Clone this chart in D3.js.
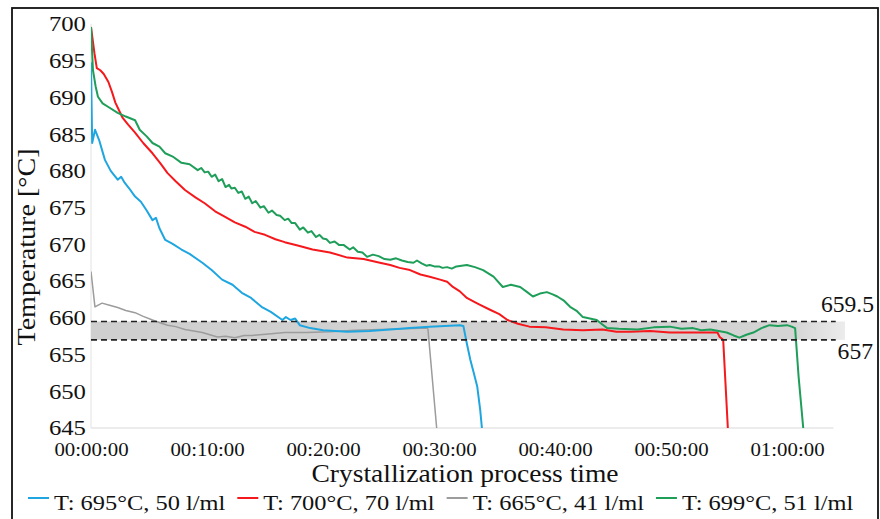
<!DOCTYPE html>
<html>
<head>
<meta charset="utf-8">
<script src="https://cdn.jsdelivr.net/npm/d3@7"></script>
<style>
  html, body { margin: 0; padding: 0; background: #fff; }
  svg text { font-family: "Liberation Serif", "Times New Roman", serif; fill: #111; }
</style>
</head>
<body>
<svg id="chart" width="880" height="519"></svg>
<script>
// ---------------- data (time in minutes, temperature in °C) ----------------
const seriesNames = ["T: 695°C, 50 l/ml", "T: 700°C, 70 l/ml", "T: 665°C, 41 l/ml", "T: 699°C, 51 l/ml"];
const seriesColors = ["#1fa6e0", "#f5181c", "#9c9c9c", "#1f9e5a"];

const blueTime = [0, 0.1, 0.35, 0.7, 1.2, 1.7, 2.3, 2.6, 2.9, 3.3, 3.8, 4.3, 4.8, 5.3, 5.6, 5.9, 6.4, 7.0, 7.8, 8.5, 9.6, 10.4, 11.3, 12.2, 13.0, 13.8, 14.7, 15.5, 16.5, 16.8, 17.2, 17.6, 18.0, 18.9, 20.0, 22.1, 24.0, 25.8, 27.5, 29.2, 30.5, 31.8, 32.1, 32.4, 32.7, 33.0, 33.3, 33.55, 33.7];
const blueTemp = [694.8, 683.8, 685.6, 684.2, 681.5, 680.0, 678.8, 679.2, 678.4, 677.6, 676.5, 675.8, 674.6, 673.3, 673.6, 672.2, 670.6, 670.1, 669.3, 668.7, 667.5, 666.5, 665.2, 664.5, 663.4, 662.7, 661.5, 660.8, 659.7, 660.1, 659.7, 659.9, 659.0, 658.6, 658.3, 658.1, 658.2, 658.4, 658.6, 658.8, 658.9, 659.0, 658.9, 656.5, 654.3, 652.5, 650.6, 647.5, 645];

const redTime = [0, 0.3, 0.5, 0.8, 1.1, 1.5, 1.8, 2.1, 2.7, 3.2, 3.8, 4.5, 5.3, 6.0, 6.6, 7.3, 8.1, 9.0, 9.8, 10.7, 11.6, 12.4, 13.3, 14.1, 15.0, 15.9, 16.7, 17.9, 19.1, 20.6, 22.1, 23.5, 24.9, 25.8, 26.6, 27.5, 28.4, 29.2, 30.1, 30.7, 31.2, 31.8, 32.4, 33.0, 33.5, 34.4, 35.2, 35.9, 36.8, 37.8, 39.2, 40.7, 42.4, 44.1, 45.3, 46.5, 48.2, 49.9, 51.6, 53.4, 54.0, 54.2, 54.5, 54.7, 54.9];
const redTemp = [699.6, 696.0, 694.0, 693.7, 693.2, 692.1, 690.8, 689.3, 687.3, 686.3, 685.2, 683.8, 682.4, 681.0, 679.7, 678.6, 677.4, 676.4, 675.6, 674.5, 673.7, 673.0, 672.4, 671.7, 671.3, 670.7, 670.3, 669.8, 669.3, 668.9, 668.2, 668.0, 667.5, 667.2, 666.8, 666.5, 665.9, 665.6, 665.2, 664.9, 664.2, 663.6, 662.7, 662.2, 661.8, 661.1, 660.5, 659.7, 659.2, 658.8, 658.7, 658.4, 658.3, 658.4, 658.1, 658.1, 658.2, 658.0, 658.0, 658.0, 658.0, 657.4, 657.0, 651.0, 645];

const grayTime = [0, 0.34, 0.95, 1.6, 2.3, 3.0, 3.8, 4.5, 5.3, 6.0, 6.6, 7.3, 8.1, 9.6, 10.9, 11.6, 12.4, 13.2, 13.9, 15.3, 16.7, 18.6, 20.6, 22.7, 24.9, 27.0, 29.0, 29.05, 29.8];
const grayTemp = [666.3, 661.5, 662.0, 661.7, 661.4, 661.0, 660.7, 660.2, 659.7, 659.3, 659.0, 658.8, 658.4, 658.0, 657.4, 657.5, 657.3, 657.6, 657.6, 657.8, 658.0, 658.0, 658.1, 658.3, 658.4, 658.5, 658.6, 658.4, 645];

const greenTime = [0, 0.17, 0.4, 0.6, 1.0, 1.5, 2.3, 3.0, 3.8, 4.2, 4.8, 5.3, 5.9, 6.4, 7.1, 7.8, 8.5,
  9.2, 9.5, 9.8, 10.1, 10.4, 10.7, 11.0, 11.3, 11.6, 11.9,
  12.1, 12.4, 12.7, 13.0, 13.3, 13.6, 13.9, 14.2, 14.6, 14.9,
  15.3, 15.6, 16.0, 16.3, 16.7, 17.0, 17.3, 17.6, 18.0, 18.3,
  18.7, 19.0, 19.4, 19.7, 20.0, 20.3, 20.6, 21.0, 21.4, 21.8,
  22.3, 22.6, 23.0, 23.4, 23.8, 24.3, 24.8, 25.3, 25.8, 26.3,
  26.8, 27.3, 27.8, 28.1, 28.5, 28.9, 29.2, 29.6, 30.0, 30.3,
  30.7, 31.1, 31.5,
  32.4, 33.1, 33.8, 34.7, 35.5, 36.2, 37.0, 37.6, 38.1, 38.7, 39.3, 39.8, 40.2, 40.8, 41.3, 41.9, 42.4, 43.0, 43.6, 44.0, 44.5, 45.5, 47.1, 48.5, 49.9, 50.9, 51.9, 52.6, 53.4, 54.1, 54.8, 55.4, 55.9, 56.5, 57.1, 57.8, 58.5, 59.2, 60.0, 60.4, 60.7, 61.0, 61.4];
const greenTemp = [699.6, 693.7, 691.5, 690.1, 689.2, 688.7, 687.9, 687.4, 686.9, 685.6, 684.7, 683.8, 683.3, 682.4, 681.9, 681.1, 680.9,
  680.1, 680.4, 679.8, 679.9, 679.2, 679.5, 678.6, 678.9, 677.8, 678.1,
  677.6, 677.7, 677.0, 677.2, 676.2, 676.5, 675.6, 675.9, 675.0, 675.2,
  674.3, 674.6, 674.0, 673.9, 673.3, 673.5, 672.9, 672.9, 672.0, 672.3,
  671.6, 671.8, 671.0, 671.3, 670.8, 670.7, 670.2, 670.4, 669.9, 669.9,
  669.3, 669.6, 669.0, 668.9, 668.3, 668.6, 668.4, 668.0, 667.9, 668.1,
  667.8, 667.6, 667.5, 667.8, 667.4, 667.1, 667.2, 667.0, 667.0, 666.8,
  666.9, 666.7, 667.0,
  667.2, 666.9, 666.5, 665.6, 664.2, 664.5, 664.2, 663.5, 662.9, 663.3, 663.5, 663.2, 662.9, 662.3, 661.5, 660.9, 660.1, 659.9, 659.7, 659.2, 658.6, 658.5, 658.4, 658.7, 658.8, 658.5, 658.6, 658.3, 658.4, 658.2, 658.0, 657.6, 657.3, 657.7, 658.0, 658.6, 659.0, 658.9, 659.0, 658.8, 658.6, 652.0, 645];

const xTickValues = [0, 10, 20, 30, 40, 50, 60];
const xTickLabels = ["00:00:00", "00:10:00", "00:20:00", "00:30:00", "00:40:00", "00:50:00", "01:00:00"];
const yTickValues = [645, 650, 655, 660, 665, 670, 675, 680, 685, 690, 695, 700];
const bandLimits = [657, 659.5];
const bandLabels = ["657", "659.5"];

// ---------------- drawing ----------------
const svg = d3.select("#chart");
const x = d3.scaleLinear().domain([0, 65]).range([91, 845]);
const y = d3.scaleLinear().domain([645, 700]).range([428, 24]);

// outer frame
svg.append("rect").attr("x", 12).attr("y", 8).attr("width", 866).attr("height", 530)
  .attr("fill", "none").attr("stroke", "#111").attr("stroke-width", 1.8);

const plot = svg.append("g");
plot.append("clipPath").attr("id", "clip").append("rect")
  .attr("x", x(0)).attr("y", y(700) - 2).attr("width", x(65) - x(0)).attr("height", y(645) - y(700) + 2);

// faint plot borders
plot.append("line").attr("x1", x(0)).attr("x2", x(0)).attr("y1", y(700)).attr("y2", y(645))
  .attr("stroke", "#e2e2e2").attr("stroke-width", 1);
plot.append("line").attr("x1", x(0)).attr("x2", x(64)).attr("y1", y(645)).attr("y2", y(645))
  .attr("stroke", "#e6e6e6").attr("stroke-width", 1.5);

// grey band
const grad = svg.append("defs").append("linearGradient").attr("id", "bandGrad")
  .attr("x1", "0").attr("x2", "1").attr("y1", "0").attr("y2", "0");
grad.append("stop").attr("offset", "0%").attr("stop-color", "#cfcfcf");
grad.append("stop").attr("offset", "93%").attr("stop-color", "#d4d4d4");
grad.append("stop").attr("offset", "100%").attr("stop-color", "#ececec");
plot.append("rect")
  .attr("x", x(0)).attr("y", y(bandLimits[1]))
  .attr("width", x(65) - x(0)).attr("height", y(bandLimits[0]) - y(bandLimits[1]))
  .attr("fill", "url(#bandGrad)");

// series lines
const series = [
  { t: blueTime, v: blueTemp, w: 2 },
  { t: redTime, v: redTemp, w: 2 },
  { t: grayTime, v: grayTemp, w: 1.5 },
  { t: greenTime, v: greenTemp, w: 2 }
];
const line = d3.line().x(d => x(d[0])).y(d => y(d[1]));
const drawOrder = [2, 0, 1, 3];
drawOrder.forEach(i => {
  const s = series[i];
  plot.append("path")
    .datum(s.t.map((t, k) => [t, s.v[k]]))
    .attr("clip-path", "url(#clip)")
    .attr("fill", "none")
    .attr("stroke", seriesColors[i])
    .attr("stroke-width", s.w)
    .attr("stroke-linejoin", "round")
    .attr("d", line);
});

// dashed limit lines
bandLimits.forEach(v => {
  plot.append("line")
    .attr("x1", x(0)).attr("x2", x(64.2))
    .attr("y1", y(v)).attr("y2", y(v))
    .attr("stroke", "#222").attr("stroke-width", 1.6)
    .attr("stroke-dasharray", "6,4");
});

// band labels
svg.append("text").attr("text-anchor", "end").attr("font-size", 22.5)
  .attr("transform", `translate(874,${y(bandLimits[1]) - 9}) scale(1.05,1)`).text(bandLabels[1]);
svg.append("text").attr("text-anchor", "end").attr("font-size", 22.5)
  .attr("transform", `translate(873,${y(bandLimits[0]) + 19}) scale(1.05,1)`).text(bandLabels[0]);

// y axis
const yAxis = svg.append("g").attr("transform", `translate(${x(0)},0)`)
  .call(d3.axisLeft(y).tickValues(yTickValues).tickSize(0).tickPadding(5).tickFormat(d3.format("d")));
yAxis.select(".domain").remove();
yAxis.selectAll("text").attr("font-size", 21.5).attr("fill", "#111")
  .attr("font-family", "Liberation Serif, serif")
  .attr("x", -4.4).attr("transform", "scale(1.15,1)");

// x axis
const xAxis = svg.append("g").attr("transform", `translate(0,${y(645)})`)
  .call(d3.axisBottom(x).tickValues(xTickValues).tickSize(0).tickPadding(14)
    .tickFormat((d, i) => xTickLabels[i]));
xAxis.select(".domain").remove();
xAxis.selectAll("text").attr("font-size", 19.5).attr("fill", "#111")
  .attr("font-family", "Liberation Serif, serif")
  .attr("transform", "scale(1.07,1)");

// axis titles
svg.append("text").attr("text-anchor", "middle").attr("font-size", 25.5)
  .attr("transform", "translate(465,482) scale(1.08,1)")
  .text("Crystallization process time");
svg.append("text").attr("text-anchor", "middle").attr("font-size", 26)
  .attr("transform", "translate(35,247) rotate(-90) scale(1.08,1)")
  .text("Temperature [°C]");

// legend
const legend = svg.append("g");
let lx = 28;
seriesNames.forEach((name, i) => {
  legend.append("line").attr("x1", lx).attr("x2", lx + 21).attr("y1", 498).attr("y2", 498)
    .attr("stroke", seriesColors[i]).attr("stroke-width", 2);
  const t = legend.append("text").attr("font-size", 22)
    .attr("transform", `translate(${lx + 26},510) scale(1.11,1)`).text(name);
  const w = t.node().getComputedTextLength() * 1.11;
  lx += 26 + w + 12;
});
</script>
</body>
</html>
